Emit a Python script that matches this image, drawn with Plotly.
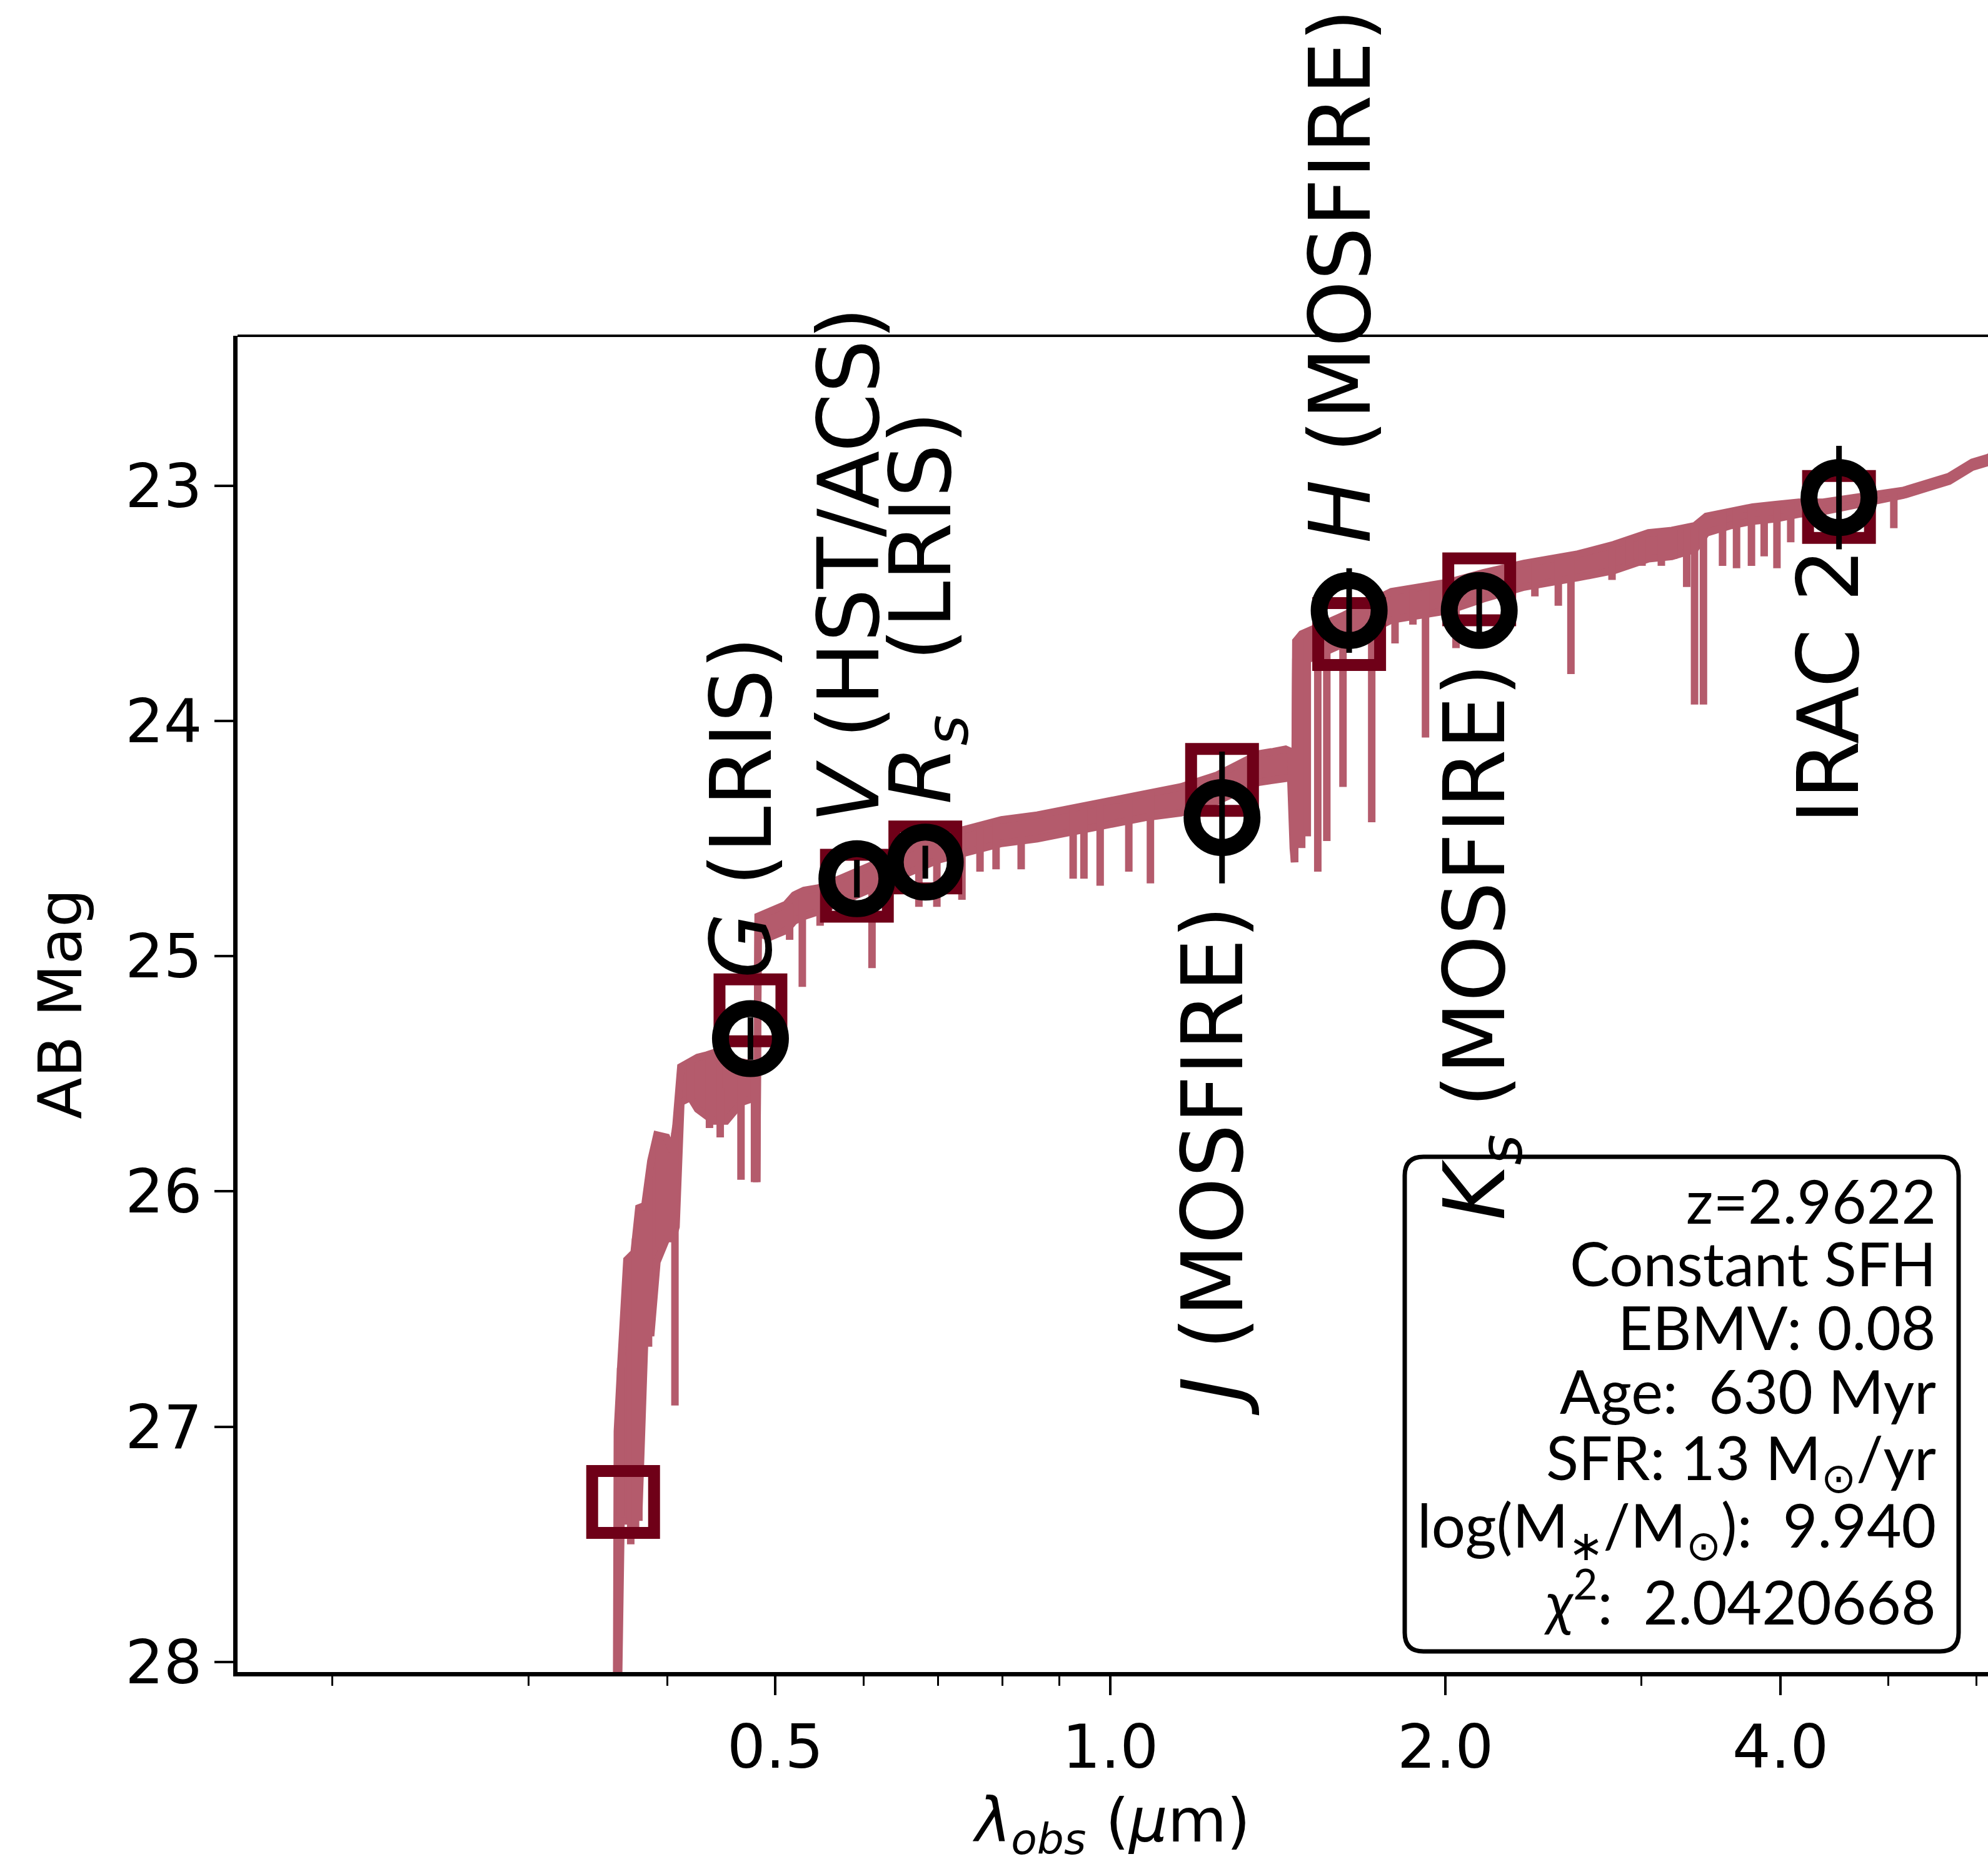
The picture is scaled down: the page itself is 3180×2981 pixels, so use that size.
import numpy as np
import plotly.graph_objects as go

# ---- best-fit model spectrum (observed wavelength in micron, AB mag)
# upper edge of the spectrum
spec_wl = [0.3600, 0.3607, 0.3634, 0.3679, 0.3734, 0.3771, 0.3818, 0.3866, 0.3914, 0.3993,
           0.4042, 0.4072, 0.4113, 0.4195, 0.4258, 0.4342, 0.4407, 0.4517, 0.4667, 0.4801,
           0.4812, 0.4826, 0.4937, 0.4994, 0.5112, 0.5200, 0.5307, 0.5466, 0.5677, 0.5983,
           0.6477, 0.7005, 0.7411, 0.7984, 0.8597, 0.9260, 0.9974, 1.0742, 1.1574, 1.2475,
           1.3590, 1.4003, 1.4370, 1.4526, 1.4602, 1.4640, 1.4679, 1.4857, 1.5188, 1.6216,
           1.7886, 1.8982, 2.0139, 2.1634, 2.3530, 2.6308, 2.8336, 3.0448, 3.1944, 3.3505,
           3.4313, 3.6000, 3.7762, 3.9606, 4.1551, 4.3590, 4.6845, 4.9135, 5.1547, 5.4066,
           5.6706, 5.9493, 6.1463, 6.3000]
spec_mag = [28.40, 27.02, 26.73, 26.29, 26.26, 26.07, 26.06, 25.87, 25.76, 25.77,
            25.83, 25.72, 25.47, 25.45, 25.43, 25.42, 25.41, 25.47, 25.45, 25.46,
            25.96, 24.83, 24.81, 24.80, 24.78, 24.74, 24.72, 24.71, 24.68, 24.63,
            24.56, 24.49, 24.46, 24.42, 24.40, 24.37, 24.34, 24.31, 24.28, 24.23,
            24.14, 24.13, 24.12, 24.13, 24.54, 24.60, 23.66, 23.63, 23.61, 23.55,
            23.45, 23.43, 23.41, 23.37, 23.33, 23.29, 23.25, 23.20, 23.19, 23.17,
            23.13, 23.11, 23.09, 23.08, 23.07, 23.07, 23.05, 23.04, 23.02, 22.99,
            22.96, 22.90, 22.88, 22.85]
# lower edge of the band of weak, densely packed absorption lines
spec_low = [28.40, 28.40, 27.40, 27.40, 27.40, 27.35, 26.60, 26.60, 26.30, 26.20,
            26.20, 26.15, 25.62, 25.60, 25.65, 25.68, 25.70, 25.70, 25.62, 25.60,
            25.96, 24.90, 24.92, 24.91, 24.89, 24.85, 24.83, 24.81, 24.78, 24.73,
            24.66, 24.59, 24.56, 24.52, 24.50, 24.47, 24.44, 24.41, 24.39, 24.34,
            24.26, 24.25, 24.24, 24.24, 24.54, 24.60, 23.75, 23.75, 23.73, 23.67,
            23.57, 23.55, 23.53, 23.48, 23.43, 23.39, 23.36, 23.31, 23.30, 23.27,
            23.20, 23.17, 23.15, 23.14, 23.12, 23.11, 23.08, 23.06, 23.04, 23.01,
            22.98, 22.92, 22.90, 22.87]

# ---- strong absorption features: wavelength, continuum level, line depth
line_wl = [0.3631, 0.3708, 0.3745, 0.3771, 0.3847, 0.3934, 0.4063, 0.4195, 0.4364, 0.4462,
           0.4517, 0.4658, 0.4790, 0.5151, 0.5288, 0.5486, 0.6108, 0.6730, 0.6985, 0.7357,
           0.7637, 0.7895, 0.8316, 0.9260, 0.9469, 0.9792, 1.0390, 1.0865, 1.4857, 1.5030,
           1.5360, 1.5649, 1.6182, 1.7173, 1.8021, 1.8701, 1.9194, 2.0444, 2.4068, 2.5263,
           2.5931, 2.8232, 2.9262, 3.0040, 3.1265, 3.2067, 3.2948, 3.3488, 3.4109, 3.5484,
           3.6526, 3.7672, 3.8675, 3.9711, 4.0859, 5.0571]
line_top = [26.75, 26.28, 26.20, 26.07, 25.95, 25.76, 25.75, 25.45, 25.42, 25.44,
            25.47, 25.45, 25.46, 24.78, 24.72, 24.70, 24.62, 24.54, 24.50, 24.46,
            24.44, 24.42, 24.41, 24.37, 24.36, 24.35, 24.33, 24.30, 23.63, 23.62,
            23.60, 23.58, 23.55, 23.49, 23.45, 23.44, 23.43, 23.41, 23.32, 23.30,
            23.29, 23.25, 23.23, 23.21, 23.20, 23.19, 23.17, 23.17, 23.14, 23.11,
            23.10, 23.09, 23.08, 23.08, 23.07, 23.03]
line_bot = [27.38, 27.50, 27.45, 27.40, 26.66, 26.24, 26.91, 25.62, 25.73, 25.77,
            25.56, 25.95, 25.96, 24.93, 25.13, 24.87, 25.05, 24.79, 24.79, 24.76,
            24.64, 24.63, 24.63, 24.67, 24.67, 24.70, 24.64, 24.69, 24.54, 24.49,
            24.64, 24.51, 24.28, 24.43, 23.67, 23.59, 24.07, 23.69, 23.47, 23.51,
            23.80, 23.40, 23.34, 23.34, 23.34, 23.31, 23.43, 23.93, 23.93, 23.34,
            23.35, 23.34, 23.30, 23.35, 23.24, 23.18]

# ---- observed photometry
obs_band = ["<i>G</i> (LRIS)", "<i>V</i> (HST/ACS)", "<i>R<sub>s</sub></i>\u00a0 (LRIS)",
            "<i>J</i> (MOSFIRE)", "<i>H</i> (MOSFIRE)", "<i>K<sub>s</sub></i> (MOSFIRE)",
            "IRAC 2"]
obs_wl = [0.475, 0.592, 0.682, 1.260, 1.639, 2.145, 4.515]
obs_mag = [25.35, 24.67, 24.60, 24.41, 23.53, 23.53, 23.05]
obs_err = [0.09, 0.08, 0.07, 0.28, 0.18, 0.10, 0.22]

# ---- model photometry through each filter
model_wl = [0.365, 0.475, 0.592, 0.682, 1.260, 1.639, 2.145, 4.515]
model_mag = [27.32, 25.23, 24.70, 24.58, 24.25, 23.63, 23.44, 23.09]

# band label placement: magnitude where the rotated label starts, and which side
label_mag = [25.10, 24.44, 24.36, 24.78, 23.25, 23.75, 23.26]
label_side = ["above", "above", "above", "below", "above", "below", "below"]
label_xshift = [-14, -12, 2, -14, -14, 2, -16]

fit_lines = ["z=2.9622", "Constant SFH", "EBMV: 0.08", "Age:  630 Myr",
             "SFR: 13 M<sub>⊙</sub>/yr", "log(M<sub>∗</sub>/M<sub>⊙</sub>):  9.940",
             "<i>χ</i><sup>2</sup>:  2.0420668"]

SPEC_COLOR = "#b45b6c"
MODEL_COLOR = "#6f0018"
FONT = "DejaVu Sans"

W, H = 3180, 2981
ML, MR, MT, MB = 380, 0, 537, 307

fig = go.Figure()

# model spectrum: lower edge, then upper edge filled down to it
fig.add_trace(go.Scatter(x=spec_wl, y=spec_low, mode="lines",
                         line=dict(color=SPEC_COLOR, width=12), hoverinfo="skip",
                         showlegend=False))
fig.add_trace(go.Scatter(x=spec_wl, y=spec_mag, mode="lines", fill="tonexty",
                         fillcolor=SPEC_COLOR,
                         line=dict(color=SPEC_COLOR, width=12), hoverinfo="skip",
                         showlegend=False))

# strong absorption features as vertical segments
lx, ly = [], []
for w, t, b in zip(line_wl, line_top, line_bot):
    lx += [w, w, None]
    ly += [t, b, None]
fig.add_trace(go.Scatter(x=lx, y=ly, mode="lines",
                         line=dict(color=SPEC_COLOR, width=12), hoverinfo="skip",
                         showlegend=False))

# model photometry
fig.add_trace(go.Scatter(x=model_wl, y=model_mag, mode="markers",
                         marker=dict(symbol="square", size=99, color="rgba(0,0,0,0)",
                                     line=dict(color=MODEL_COLOR, width=19)),
                         showlegend=False))

# observed photometry with errors
fig.add_trace(go.Scatter(x=obs_wl, y=obs_mag, mode="markers",
                         error_y=dict(type="data", array=obs_err, color="black",
                                      thickness=9, width=0),
                         marker=dict(symbol="circle", size=96, color="rgba(0,0,0,0)",
                                     line=dict(color="black", width=27)),
                         showlegend=False))

annotations = []
for txt, w, m, side, xs in zip(obs_band, obs_wl, label_mag, label_side, label_xshift):
    annotations.append(dict(
        x=np.log10(w), y=m, xref="x", yref="y", text=txt, showarrow=False,
        textangle=-90, xanchor="center", yanchor="bottom" if side == "above" else "top",
        xshift=xs, font=dict(family=FONT, size=135, color="black")))

# fit summary box
pw, ph = W - ML - MR, H - MT - MB
bx0, bx1 = (2247 - ML) / pw, (3133 - ML) / pw
by0, by1 = (H - MB - 2641) / ph, (H - MB - 1850) / ph
rx, ry = 30 / pw, 30 / ph
box_path = (f"M {bx0+rx},{by0} L {bx1-rx},{by0} Q {bx1},{by0} {bx1},{by0+ry} "
            f"L {bx1},{by1-ry} Q {bx1},{by1} {bx1-rx},{by1} "
            f"L {bx0+rx},{by1} Q {bx0},{by1} {bx0},{by1-ry} "
            f"L {bx0},{by0+ry} Q {bx0},{by0} {bx0+rx},{by0} Z")

line_centers = [1919, 2020, 2121, 2223, 2328, 2436, 2563]
line_yshift = [0, 0, 0, 0, -8, -8, 8]
for txt, yc, ys in zip(fit_lines, line_centers, line_yshift):
    annotations.append(dict(
        x=(3099 - ML) / pw, y=(H - MB - yc) / ph, xref="paper", yref="paper",
        text=txt, showarrow=False, xanchor="right", yanchor="middle", yshift=ys,
        font=dict(family="Lato", size=96, color="black")))

shapes = [
    dict(type="path", path=box_path, xref="paper", yref="paper",
         line=dict(color="black", width=7), fillcolor="white", layer="above"),
    dict(type="line", xref="paper", yref="paper", x0=0, x1=1, y0=1, y1=1,
         line=dict(color="black", width=4), layer="above"),
]

fig.update_layout(
    width=W, height=H,
    margin=dict(l=ML, r=MR, t=MT, b=MB, autoexpand=False),
    paper_bgcolor="white", plot_bgcolor="white",
    annotations=annotations, shapes=shapes,
    font=dict(family=FONT, color="black"),
)

fig.update_xaxes(
    type="log", range=[np.log10(0.1644), np.log10(6.145)],
    showgrid=False, zeroline=False, showline=True, linecolor="black", linewidth=7,
    mirror=False, ticks="outside", ticklen=30, tickwidth=4, tickcolor="black",
    tickvals=[0.5, 1.0, 2.0, 4.0], ticktext=["0.5", "1.0", "2.0", "4.0"],
    tickfont=dict(family=FONT, size=97, color="black"),
    minor=dict(ticks="outside", ticklen=15, tickwidth=3, tickcolor="black",
               tickvals=[0.2, 0.3, 0.4, 0.6, 0.7, 0.8, 0.9, 3.0, 5.0, 6.0], showgrid=False),
    title=dict(text="<i>λ<sub>obs</sub></i> (<i>μ</i>m)",
               font=dict(family=FONT, size=97, color="black"), standoff=40),
)

fig.update_yaxes(
    range=[28.043, 22.362],
    showgrid=False, zeroline=False, showline=True, linecolor="black", linewidth=7,
    mirror=False, ticks="outside", ticklen=30, tickwidth=4, tickcolor="black",
    tickvals=[23, 24, 25, 26, 27, 28],
    tickfont=dict(family=FONT, size=97, color="black"),
    title=dict(text="AB Mag", font=dict(family=FONT, size=97, color="black"), standoff=40),
)

fig.write_html("out.html")
